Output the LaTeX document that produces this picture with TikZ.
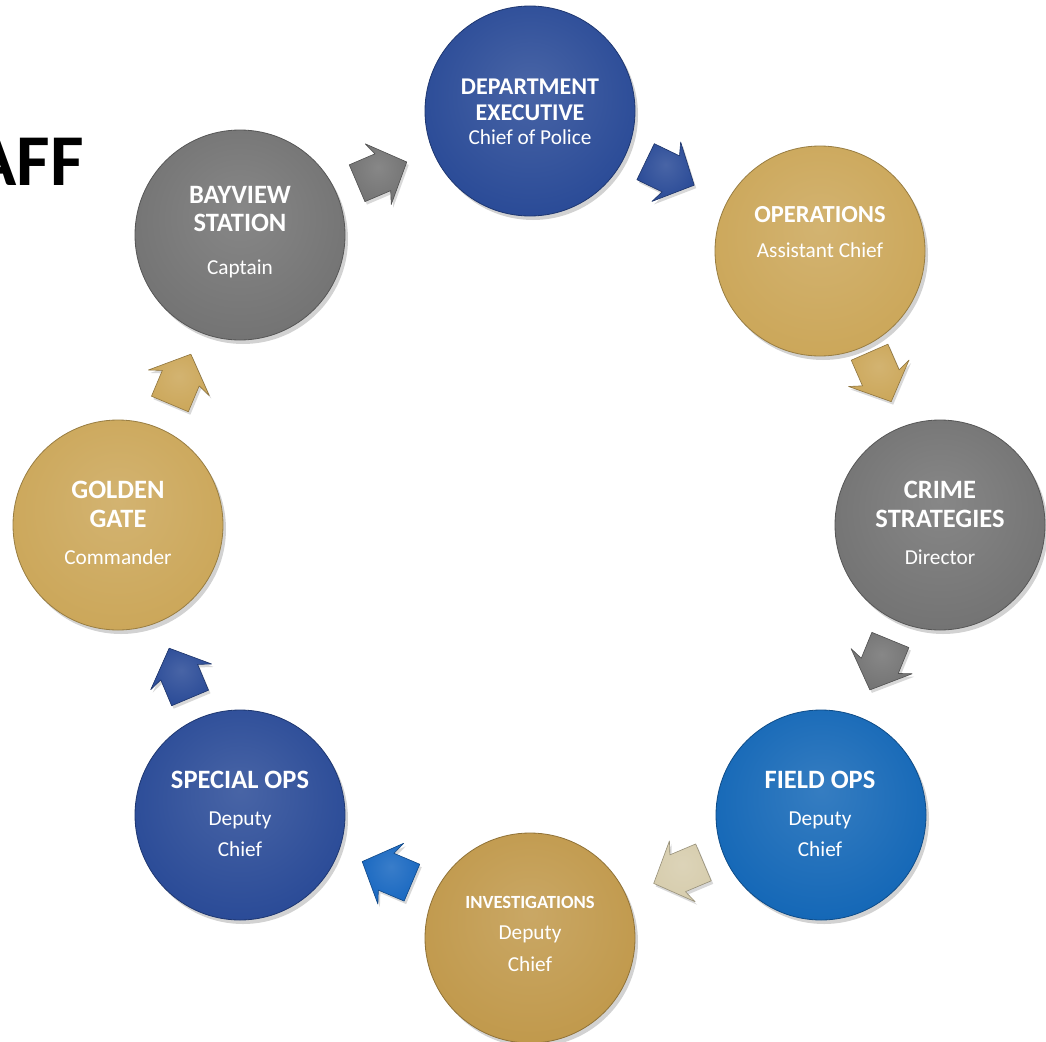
\documentclass[tikz,border=0pt]{standalone}
\usepackage{fontspec}
\setmainfont{Carlito}
\usetikzlibrary{shadows,calc}
\colorlet{discc}{gray}
\pgfdeclareradialshading[discc]{disc}{\pgfpoint{0bp}{6bp}}{color(0bp)=(discc!85!white); color(30bp)=(discc); color(45bp)=(discc!90!black); color(50bp)=(discc!72!black)}
\definecolor{navy}{RGB}{40,73,150}
\definecolor{gold}{RGB}{203,166,88}
\definecolor{invgold}{RGB}{192,152,74}
\definecolor{slate}{RGB}{114,114,114}
\definecolor{fieldblue}{RGB}{18,102,182}
\definecolor{beige}{RGB}{214,204,172}
\definecolor{brightblue}{RGB}{22,102,192}
\tikzset{
  disc color/.code={\colorlet{discc}{#1}},
  disc/.style={circle, minimum size=210pt, inner sep=0pt, shade, shading=disc, disc color=#1,
    draw=discc!75!black, line width=0.8pt,
    drop shadow={opacity=0.35, shadow xshift=3pt, shadow yshift=-4pt}},
  flowshape/.style={draw, shade, shading=disc, disc color=#1, draw=discc!70!black,
    line width=0.6pt, line join=round,
    drop shadow={opacity=0.3, shadow xshift=2pt, shadow yshift=-3pt}},
  ttl/.style={text=white, font=\fontsize{#1}{30}\selectfont\bfseries, anchor=base, inner sep=0pt},
  ttl/.default=26.5,
  sub/.style={text=white, font=\fontsize{21.3}{25}\selectfont, anchor=base, inner sep=0pt},
}
% #1 nudge, #2 from node, #3 to node, #4 colour
\newcommand{\flowarrow}[4][0,0]{%
  \path let \p1=($(#3)-(#2)$), \n1={atan2(\y1,\x1)} in \pgfextra{\xdef\flowang{\n1}};
  \path[flowshape=#4, shift={($(#2)!0.5!(#3)+(#1)$)}, rotate=\flowang]
    (-26,-20) -- (2,-20) -- (-3,-33) -- (28,0) -- (-3,33) -- (2,20) -- (-26,20) -- cycle;
}
\begin{document}
\begin{tikzpicture}[x=1pt, y=-1pt]
\clip (0,0) rectangle (1046,1041);
\fill[white] (0,0) rectangle (1046,1041);
% heading (cropped)
\node[anchor=base east, inner sep=0pt, font=\fontsize{73}{80}\selectfont\bfseries] (head) at (84,185) {AFF};
% circles
\node[disc=navy] (dep) at (530,111) {};
\node[disc=gold] (ops) at (820,251) {};
\node[disc=slate] (crime) at (940,525) {};
\node[disc=fieldblue] (field) at (821,815) {};
\node[disc=invgold] (inv) at (530,938) {};
\node[disc=navy] (spec) at (240,815) {};
\node[disc=gold] (gold) at (118,525) {};
\node[disc=slate] (bay) at (240,235) {};
% texts
\node[ttl=24] (t1a) at (530,94.5) {DEPARTMENT};
\node[ttl=24] (t1b) at (530,120.5) {EXECUTIVE};
\node[sub] (t1c) at (530,144.5) {Chief of Police};
\node[ttl=24.5] (t2a) at (820,222.5) {OPERATIONS};
\node[sub] (t2b) at (820,257.5) {Assistant Chief};
\node[ttl] (t3a) at (940,498.5) {CRIME};
\node[ttl] (t3b) at (940,527.5) {STRATEGIES};
\node[sub] (t3c) at (940,564.5) {Director};
\node[ttl] (t4a) at (820,788.5) {FIELD OPS};
\node[sub] (t4b) at (820,825.5) {Deputy};
\node[sub] (t4c) at (820,856.5) {Chief};
\node[ttl=18.6] (t5a) at (530,908) {INVESTIGATIONS};
\node[sub] (t5b) at (530,939.5) {Deputy};
\node[sub] (t5c) at (530,971.5) {Chief};
\node[ttl] (t6a) at (240,788.5) {SPECIAL OPS};
\node[sub] (t6b) at (240,825.5) {Deputy};
\node[sub] (t6c) at (240,856.5) {Chief};
\node[ttl] (t7a) at (118,498.5) {GOLDEN};
\node[ttl] (t7b) at (118,527.5) {GATE};
\node[sub] (t7c) at (118,564.5) {Commander};
\node[ttl] (t8a) at (240,203.5) {BAYVIEW};
\node[ttl] (t8b) at (240,231.5) {STATION};
\node[sub] (t8c) at (240,274.5) {Captain};
% flow arrows
\flowarrow[-4,0]{bay}{dep}{slate}
\flowarrow[-6,-8]{dep}{ops}{navy}
\flowarrow[0,-12]{ops}{crime}{gold}
\flowarrow[0,-6]{crime}{field}{slate}
\flowarrow[4,-4]{field}{inv}{beige}
\flowarrow[3,-4]{inv}{spec}{brightblue}
\flowarrow[1,4]{spec}{gold}{navy}
\flowarrow[1,0]{gold}{bay}{gold}
\end{tikzpicture}
\end{document}
